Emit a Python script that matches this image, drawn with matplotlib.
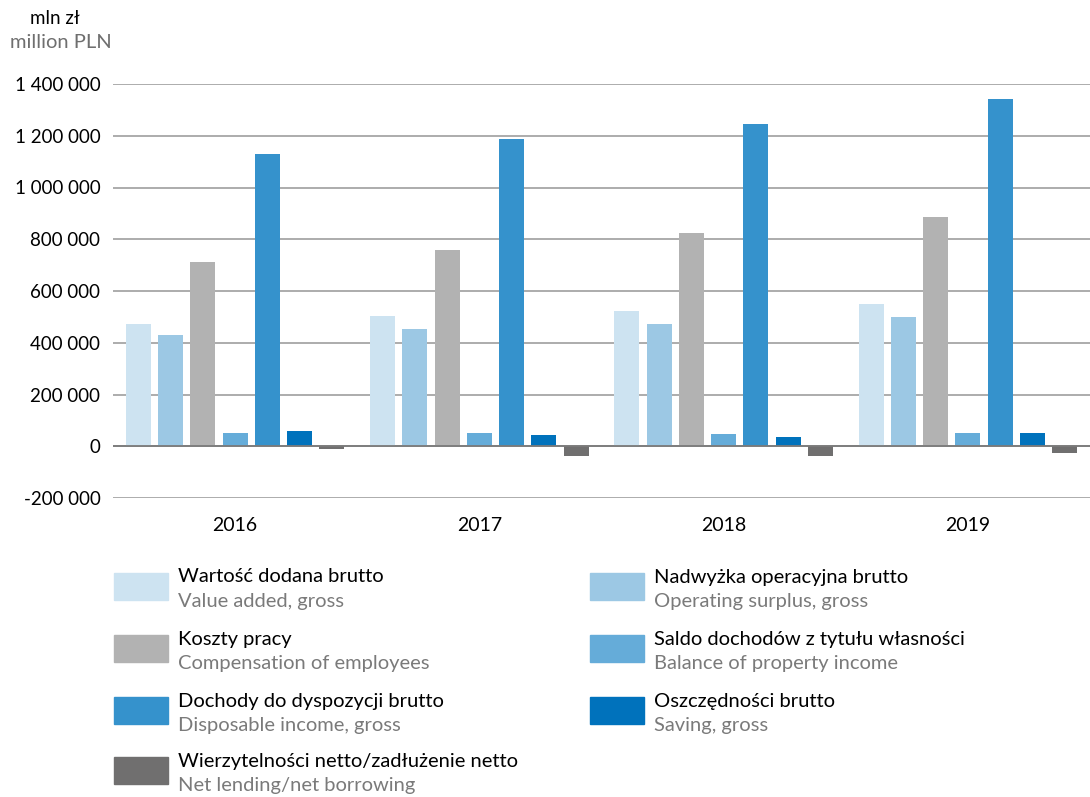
import numpy as np
import matplotlib
matplotlib.use("Agg")
import matplotlib.pyplot as plt
from matplotlib.patches import Rectangle

plt.rcParams['font.family'] = ['Lato', 'DejaVu Sans']

years = ['2016', '2017', '2018', '2019']

value_added = [472000, 505000, 522000, 549000]
operating_surplus = [429000, 452000, 472000, 498000]
compensation = [712000, 757000, 823000, 886000]
property_income = [51000, 51000, 46000, 51000]
disposable_income = [1130000, 1187000, 1246000, 1342000]
saving = [58000, 42000, 34000, 51000]
net_lending = [-11000, -39000, -37000, -25000]

series = [value_added, operating_surplus, compensation, property_income,
          disposable_income, saving, net_lending]
labels_pl = ['Wartość dodana brutto', 'Nadwyżka operacyjna brutto', 'Koszty pracy',
             'Saldo dochodów z tytułu własności', 'Dochody do dyspozycji brutto',
             'Oszczędności brutto', 'Wierzytelności netto/zadłużenie netto']
labels_en = ['Value added, gross', 'Operating surplus, gross', 'Compensation of employees',
             'Balance of property income', 'Disposable income, gross', 'Saving, gross',
             'Net lending/net borrowing']
colors = ['#cde3f1', '#9cc8e4', '#b2b2b2', '#65acd9', '#3592cc', '#0072bc', '#706f6f']

yticks = [-200000, 0, 200000, 400000, 600000, 800000, 1000000, 1200000, 1400000]
W, H = 1090, 797

fig = plt.figure(figsize=(W / 100, H / 100), dpi=100)
ax = fig.add_axes([113 / W, 1 - 498 / H, (1090 - 113) / W, (498 - 84) / H])

x = np.arange(len(years))
pitch = 0.132
bw = 0.103
for i, s in enumerate(series):
    ax.bar(x + (i - 3) * pitch, s, width=bw, color=colors[i], zorder=3)

ax.set_xlim(-0.5, 3.5)
ax.set_ylim(-200000, 1400000)
ax.set_yticks(yticks)
ax.set_yticklabels([f"{v:,}".replace(',', ' ') for v in yticks], fontsize=13.5)
ax.set_xticks(x)
ax.set_xticklabels(years, fontsize=14)
ax.tick_params(length=0)
ax.tick_params(axis='y', pad=9)
ax.tick_params(axis='x', pad=14)
for sp in ax.spines.values():
    sp.set_visible(False)
ax.grid(axis='y', color='#a6a6a6', lw=1.3, zorder=0)
ax.axhline(0, color='#7a7a7a', lw=1.3, zorder=4)

fig.text(30 / W, 1 - 18 / H, 'mln zł', fontsize=13.5, va='center', ha='left')
fig.text(10 / W, 1 - 43 / H, 'million PLN', fontsize=14.5, va='center', ha='left', color='#6f6f6f')

# legend drawn by hand, two columns
col_x = [114, 590]
row_y = [573, 635, 697, 757]
for k in range(len(series)):
    cx = col_x[k % 2]
    ry = row_y[k // 2]
    fig.add_artist(Rectangle((cx / W, 1 - (ry + 27) / H), 54 / W, 27 / H,
                             transform=fig.transFigure, color=colors[k]))
    fig.text((cx + 64) / W, 1 - (ry + 4) / H, labels_pl[k], fontsize=14.5,
             va='center', ha='left')
    fig.text((cx + 64) / W, 1 - (ry + 29) / H, labels_en[k], fontsize=14.5,
             va='center', ha='left', color='#7a7a7a')

fig.savefig('out.png', dpi=100)
